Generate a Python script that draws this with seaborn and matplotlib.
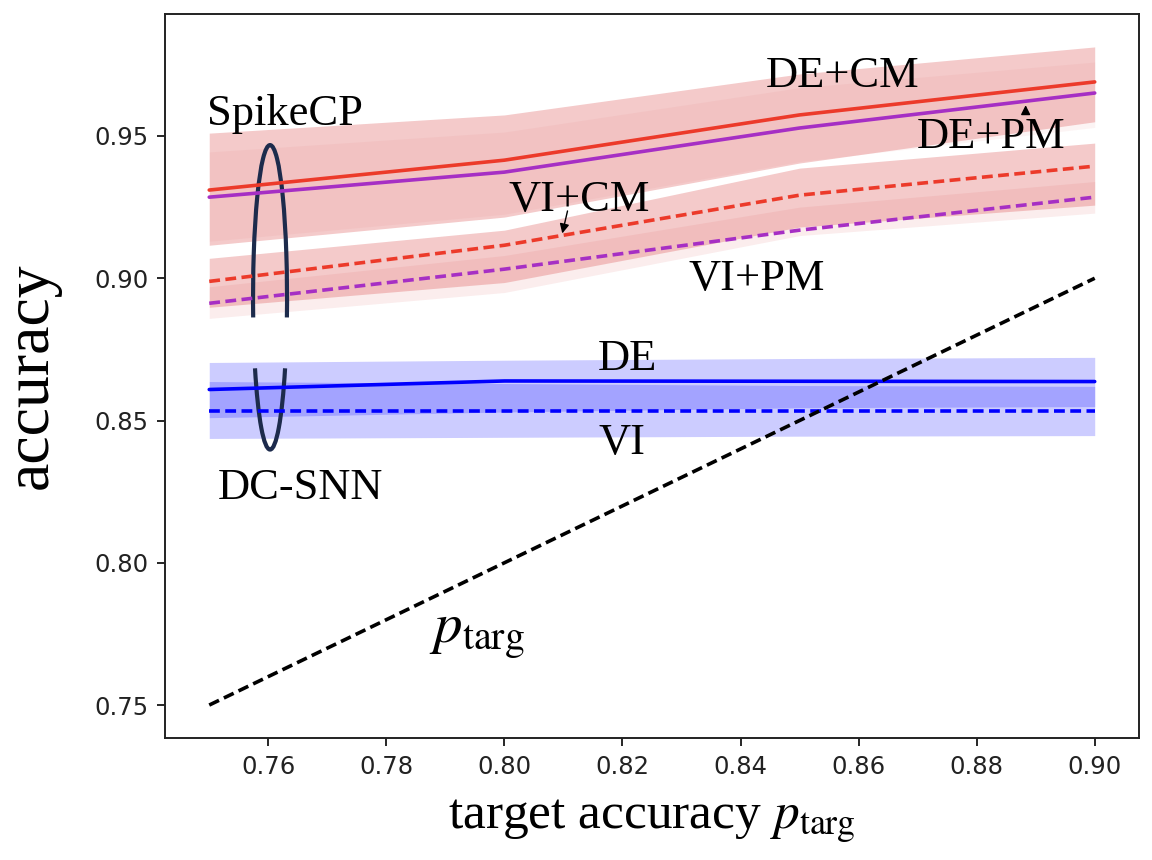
import numpy as np
import pandas as pd
import matplotlib
matplotlib.use("Agg")
import matplotlib.pyplot as plt
import seaborn as sns
from matplotlib.patches import Arc

sns.set_style("ticks")
plt.rcParams["font.family"] = ["DejaVu Sans"]
plt.rcParams["mathtext.fontset"] = "stix"
plt.rcParams["text.color"] = "black"
plt.rcParams["axes.labelcolor"] = "black"

# target accuracy values on the x axis
p_targ = [0.75, 0.80, 0.85, 0.90]

# mean accuracy per method
de_cm = [0.931, 0.9415, 0.9574, 0.969]
de_pm = [0.9285, 0.9373, 0.9528, 0.9651]
vi_cm = [0.8989, 0.9116, 0.9292, 0.9394]
vi_pm = [0.8912, 0.9032, 0.9169, 0.9285]
de = [0.8609, 0.8639, 0.8638, 0.8637]
vi = [0.8535, 0.8535, 0.8535, 0.8535]

# shaded bands (lower, upper)
de_cm_lo = [0.9116, 0.9215, 0.9405, 0.955]
de_cm_hi = [0.951, 0.9574, 0.9718, 0.9813]
de_pm_lo = [0.913, 0.9225, 0.941, 0.953]
de_pm_hi = [0.9444, 0.9514, 0.967, 0.976]
vi_cm_lo = [0.8898, 0.8985, 0.918, 0.9257]
vi_cm_hi = [0.907, 0.9169, 0.9387, 0.9475]
vi_pm_lo = [0.8859, 0.895, 0.915, 0.9229]
vi_pm_hi = [0.897, 0.908, 0.925, 0.934]
de_lo = [0.851, 0.853, 0.8545, 0.8549]
de_hi = [0.8704, 0.8712, 0.8718, 0.8722]
vi_lo = [0.8437, 0.8441, 0.8445, 0.8447]
vi_hi = [0.8637, 0.8630, 0.8623, 0.862]

RED = "#ec3a2a"
PURPLE = "#a62fc4"
BLUE = "#0000ff"
PINK = "#dc5050"
NAVY = "#1d2b4c"

fig, ax = plt.subplots(figsize=(11.52, 8.6), dpi=100)
fig.subplots_adjust(left=0.1432, right=0.9887, top=0.9837, bottom=0.1419)

# bands first
ax.fill_between(p_targ, de_cm_lo, de_cm_hi, color=PINK, alpha=0.3, lw=0)
ax.fill_between(p_targ, de_pm_lo, de_pm_hi, color=PINK, alpha=0.06, lw=0)
ax.fill_between(p_targ, vi_cm_lo, vi_cm_hi, color=PINK, alpha=0.3, lw=0)
ax.fill_between(p_targ, vi_pm_lo, vi_pm_hi, color=PINK, alpha=0.1, lw=0)
ax.fill_between(p_targ, de_lo, de_hi, color=BLUE, alpha=0.2, lw=0)
ax.fill_between(p_targ, vi_lo, vi_hi, color=BLUE, alpha=0.2, lw=0)

lw = 2.6
dash = (0, (3.0, 1.5))
sns.lineplot(x=p_targ, y=de_cm, color=RED, lw=lw, ax=ax)
sns.lineplot(x=p_targ, y=de_pm, color=PURPLE, lw=lw, ax=ax)
sns.lineplot(x=p_targ, y=vi_cm, color=RED, lw=lw, ls=dash, ax=ax)
sns.lineplot(x=p_targ, y=vi_pm, color=PURPLE, lw=lw, ls=dash, ax=ax)
sns.lineplot(x=p_targ, y=de, color=BLUE, lw=lw, ax=ax)
sns.lineplot(x=p_targ, y=vi, color=BLUE, lw=lw, ls=dash, ax=ax)
sns.lineplot(x=p_targ, y=p_targ, color="black", lw=lw, ls=dash, ax=ax)

ax.margins(x=0.05, y=0.05)

# labels on the curves
serif = dict(family="Liberation Serif", fontsize=32, ha="left", va="baseline")
ax.text(0.7497, 0.9539, "SpikeCP", **serif)
ax.text(0.8442, 0.9673, "DE+CM", **serif)
ax.text(0.8698, 0.9458, "DE+PM", **serif)
ax.text(0.8007, 0.9236, "VI+CM", **serif)
ax.text(0.8312, 0.8958, "VI+PM", **serif)
ax.text(0.8158, 0.8676, "DE", **serif)
ax.text(0.8159, 0.8384, "VI", **serif)
ax.text(0.7514, 0.8225, "DC-SNN", **serif)
ax.text(0.7873, 0.7715, r"$p_{\mathrm{targ}}$", fontsize=41, ha="left", va="baseline")

arrow = dict(arrowstyle="-|>", color="black", lw=1.0, mutation_scale=14)
ax.annotate("", xy=(0.8097, 0.9148), xytext=(0.8108, 0.9246), arrowprops=arrow)
ax.annotate("", xy=(0.8883, 0.9618), xytext=(0.8883, 0.9567), arrowprops=arrow)

# the tall ellipse grouping SpikeCP / DC-SNN, split in two arcs
cx, cy, w, h = 0.7603, 0.8933, 0.00576, 0.107


def stretched(t):
    # Arc stretches angles by w/h, so feed it the geometric angle
    t = np.deg2rad(t)
    return np.rad2deg(np.arctan2(h * np.sin(t), w * np.cos(t)))


ax.add_patch(Arc((cx, cy), w, h, theta1=stretched(-7.6), theta2=stretched(187.6),
                 color=NAVY, lw=3))
ax.add_patch(Arc((cx, cy), w, h, theta1=stretched(207.8) % 360, theta2=stretched(332.2) % 360,
                 color=NAVY, lw=3))

ax.set_xlabel(r"target accuracy $p_{\mathrm{targ}}$", family="Liberation Serif", fontsize=37, labelpad=14)
ax.set_ylabel("accuracy", family="Liberation Serif", fontsize=46, labelpad=24)
ax.set_xticks([0.76, 0.78, 0.80, 0.82, 0.84, 0.86, 0.88, 0.90])
ax.set_yticks([0.75, 0.80, 0.85, 0.90, 0.95])
ax.xaxis.set_major_formatter(matplotlib.ticker.FormatStrFormatter("%.2f"))
ax.yaxis.set_major_formatter(matplotlib.ticker.FormatStrFormatter("%.2f"))
ax.tick_params(labelsize=17.5, labelcolor="#222222", length=6, width=1.4, pad=6)
for s in ax.spines.values():
    s.set_linewidth(1.4)
    s.set_color("#222222")

plt.savefig("out.png", dpi=100)
